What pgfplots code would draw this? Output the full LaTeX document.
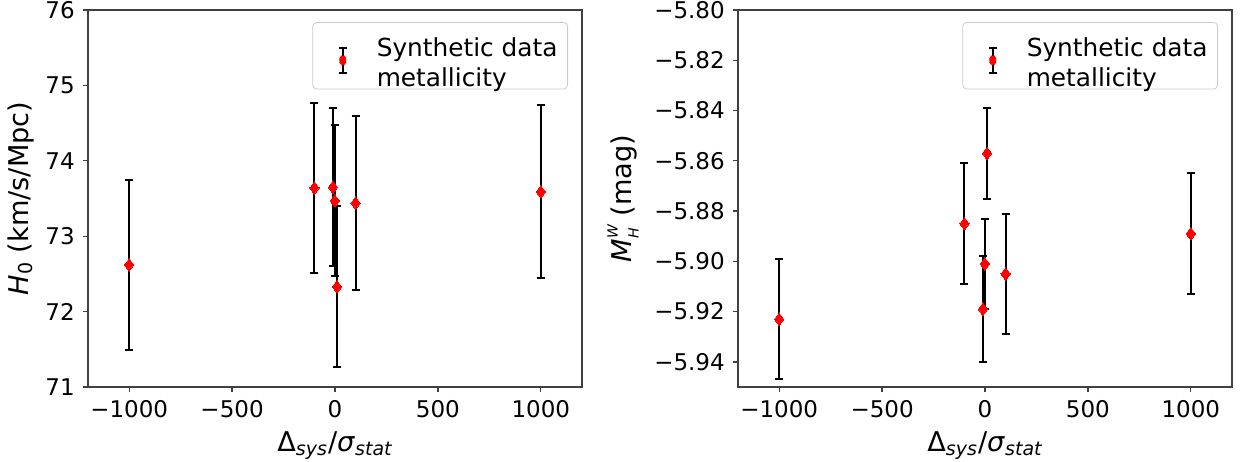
\documentclass[border=0pt]{standalone}
\usepackage{fontspec}
\setmainfont{DejaVu Sans}
\usepackage{pgfplots}
\pgfplotsset{compat=1.18}
\begin{document}
\fontsize{11.5}{13.8}\selectfont
\begin{tikzpicture}
\useasboundingbox (-44pt,-37pt) rectangle (579pt,193.5pt);
\pgfplotsset{
  mystyle/.style={
    scale only axis, width=247pt, height=188.5pt,
    xmin=-1200, xmax=1200,
    axis line style={draw=black!75, line width=0.65pt},
    tick style={draw=black!75, line width=0.65pt},
    tick align=outside, major tick length=2.6pt,
    xtick pos=bottom, ytick pos=left,
    xtick={-1000,-500,0,500,1000},
    xticklabels={−1000,−500,0,500,1000},
    ticklabel style={font=\fontsize{11.5}{13.8}\selectfont},
    label style={font=\fontsize{13.6}{16}\selectfont},
    xlabel={Δ\textsubscript{\itshape sys}/\textit{σ}\textsubscript{\itshape stat}},
    xlabel style={yshift=1pt},
    legend style={at={(1,1)}, anchor=north east, xshift=-7pt, yshift=-6pt,
      draw=black!20, rounded corners=2pt, fill=white, inner xsep=3pt, inner ysep=5pt,
      font=\fontsize{12.4}{14.6}\selectfont},
    legend cell align=left,
    legend image code/.code={
      \path[draw=none] (0pt,0) -- (27pt,0);
      \draw[black, line width=1pt] (12pt,-8.7pt) -- (12pt,4.1pt);
      \draw[black, line width=1pt] (10pt,-8.7pt) -- (14pt,-8.7pt);
      \draw[black, line width=1pt] (10pt,4.1pt) -- (14pt,4.1pt);
      \fill[red] (12pt,-2.3pt) +(0,3.1pt) -- +(2.25pt,0) -- +(0,-3.1pt) -- +(-2.25pt,0) -- cycle;
    },
    legend style={nodes={inner sep=2pt}},
  },
  myplot/.style={
    only marks, mark=diamond*, mark size=3.1pt,
    mark options={draw=red, fill=red, line width=0pt},
    error bars/.cd, y dir=both, y explicit,
    error bar style={black, line width=1pt},
    error mark options={rotate=90, mark size=2pt, line width=1pt, black},
  },
}
\begin{axis}[mystyle,
  ymin=71, ymax=76, ytick={71,72,73,74,75,76},
  yticklabels={71,72,73,74,75,76},
  ylabel={\textit{H}\textsubscript{0} (km/s/Mpc)},
  ylabel style={yshift=-2pt},
]
\addplot+[myplot] table[x=x, y=y, y error=e] {
x y e
-1000 72.62 1.13
-100 73.64 1.13
-10 73.65 1.05
-1 73.47 1.00
10 72.33 1.07
100 73.44 1.16
1000 73.59 1.15
};
\addlegendentry{\begin{tabular}{@{}l@{}}Synthetic data\\[0pt]metallicity\end{tabular}}
\end{axis}
\begin{axis}[mystyle, at={(325pt,0)},
  ymin=-5.95, ymax=-5.80,
  ytick={-5.94,-5.92,-5.90,-5.88,-5.86,-5.84,-5.82,-5.80},
  yticklabels={−5.94,−5.92,−5.90,−5.88,−5.86,−5.84,−5.82,−5.80},
  ylabel={\textit{M}\makebox[0pt][l]{\raisebox{-0.45ex}{\scriptsize\itshape H}}\raisebox{0.95ex}{\scriptsize\itshape W}\ (mag)},
]
\addplot+[myplot] table[x=x, y=y, y error=e] {
x y e
-1000 -5.923 0.024
-100 -5.885 0.024
-10 -5.919 0.021
-1 -5.901 0.018
10 -5.857 0.018
100 -5.905 0.024
1000 -5.889 0.024
};
\addlegendentry{\begin{tabular}{@{}l@{}}Synthetic data\\[0pt]metallicity\end{tabular}}
\end{axis}
\end{tikzpicture}
\end{document}
